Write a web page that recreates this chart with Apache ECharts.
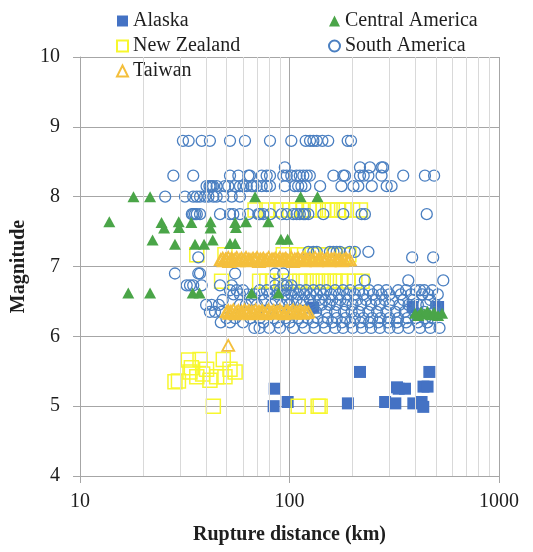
<!DOCTYPE html>
<html>
<head>
<meta charset="utf-8">
<script src="https://cdn.jsdelivr.net/npm/echarts@6/dist/echarts.min.js"></script>
<style>
  html, body { margin: 0; padding: 0; background: #fff; }
  #chart { width: 533px; height: 552px; }
</style>
</head>
<body>
<div id="chart"></div>
<script>
// Rupture distance (km) vs magnitude, per region

// Alaska (filled squares)
const alaskaDist = [85, 84, 98, 217, 465, 190, 286, 320, 326, 332, 356, 390, 427, 435, 436, 456, 130, 387, 512];
const alaskaMag  = [5.25, 5.0, 5.06, 5.49, 5.49, 5.04, 5.06, 5.04, 5.27, 5.25, 5.25, 5.04, 5.06, 4.99, 5.28, 5.28, 6.41, 6.42, 6.42];

// Central America (filled triangles)
const centralDist = [18, 21.6, 68.5, 113, 136,
  13.8, 24.5, 29.6, 34, 42, 55, 62, 79.2,
  25.2, 29.7, 42, 55.5,
  22.2, 28.4, 35.4, 39.1, 43, 52, 55, 91, 98,
  17, 21.6, 34.5, 37.2, 66, 88.5,
  398, 412, 425, 440, 455, 472, 490, 512, 535];
const centralMag = [8.0, 8.0, 8.0, 8.0, 8.0,
  7.64, 7.63, 7.64, 7.63, 7.64, 7.63, 7.64, 7.64,
  7.55, 7.56, 7.55, 7.56,
  7.38, 7.32, 7.32, 7.32, 7.38, 7.33, 7.33, 7.39, 7.39,
  6.62, 6.62, 6.62, 6.62, 6.62, 6.62,
  6.33, 6.3, 6.35, 6.32, 6.36, 6.31, 6.34, 6.3, 6.33];

// New Zealand (open squares)
const nzDist = [43.3, 110, 137, 140,
  32.9, 37.4, 48.3, 29.5, 28.4, 33.5, 36.1, 40.2, 41.7, 44.9, 49.2, 52, 55, 34, 38.5,
  47.4, 72, 78, 83, 92, 100, 112, 120, 128, 136, 145, 155, 165, 175, 190, 205, 222,
  36.1, 49.2, 93.4, 110, 118, 128, 140, 152, 165, 180, 192,
  68.5, 78, 86, 92, 100, 108, 116, 124, 133, 145, 152, 160, 170, 182, 200, 218];
const nzMag = [5.0, 5.0, 5.0, 5.0,
  5.66, 5.67, 5.67, 5.36, 5.35, 5.49, 5.42, 5.53, 5.37, 5.42, 5.42, 5.53, 5.49, 5.55, 5.46,
  6.79, 6.79, 6.79, 6.79, 6.79, 6.79, 6.79, 6.79, 6.79, 6.79, 6.79, 6.79, 6.79, 6.79, 6.79, 6.79, 6.79,
  7.17, 7.17, 7.17, 7.17, 7.17, 7.17, 7.17, 7.17, 7.17, 7.17, 7.17,
  7.81, 7.81, 7.81, 7.81, 7.81, 7.81, 7.81, 7.81, 7.81, 7.81, 7.81, 7.81, 7.81, 7.81, 7.81, 7.81];

// South America (open circles), one list of distances per magnitude row
const saRowMags = [8.8, 8.42, 8.3, 8.15, 8.0, 7.75, 7.21, 7.13, 6.9, 6.8, 6.73,
  6.66, 6.6, 6.52, 6.45, 6.35, 6.26, 6.2, 6.12];
const sa880 = [31, 33, 38.1, 41.7, 52, 61.3, 80.7, 102, 119.5, 125.3, 130, 135, 143.5, 153, 189.6, 196.6];
const sa842 = [95, 217, 242, 275, 280];
const sa830 = [27.9, 34.7, 52, 57, 63.6, 64.7, 73.7, 77.8, 80.7, 93.4, 97, 102, 108, 112, 116.4, 120.8, 125, 162, 180.6, 184, 217, 226, 238, 275, 349, 443, 490];
const sa815 = [40.2, 41.5, 42, 42.5, 43.2, 44.9, 49.2, 51, 55, 58, 60.2, 62.5, 66, 67.2, 69.7, 73.7, 77.8, 80.7, 95, 106, 110, 114, 119, 140, 177, 202, 213, 247, 291, 307];
const sa800 = [25.5, 31.7, 34.7, 36.1, 37.4, 39.5, 41, 43.3, 44.9, 48.3, 53, 58];
const sa775 = [34.2, 34.7, 35.4, 36.1, 37.4, 46.6, 52, 53.9, 58, 63.6, 71, 72.2, 75, 81, 91.8, 97, 104.2, 108.2, 112, 116.4, 118.6, 123, 145, 180.6, 221, 229, 452];
const sa721 = [123, 130, 135, 156, 162, 168, 174, 194, 205, 238];
const sa713 = [36.7, 385, 485];
const sa690 = [28.4, 36.7, 37.4, 55, 85.3, 93.4];
const sa680 = [229, 369, 542];
const sa673 = [32.3, 33.5, 34.7, 38.1, 46.6, 53, 85.3, 93.4, 97, 102];
const sa666 = [52, 56, 60, 72, 78, 85, 90, 96, 104, 112, 120, 130, 140, 150, 165, 180, 195, 215, 240, 265, 290, 330, 360, 400, 420, 440, 480];
const sa660 = [54, 58, 63, 68, 74, 80, 88, 95, 102, 110, 118, 126, 135, 145, 158, 172, 188, 205, 225, 250, 275, 300, 340, 380, 430, 460, 510];
const sa652 = [48, 66, 76, 86, 98, 108, 116, 125, 138, 148, 160, 175, 190, 210, 232, 258, 285, 310, 350, 390, 470];
const sa645 = [40, 42.5, 46, 58, 62, 70, 82, 92, 100, 114, 128, 142, 155, 168, 185, 200, 220, 245, 270, 300, 335, 370, 410, 450, 500];
const sa635 = [41.7, 44.1, 47.4, 62, 78, 92, 106, 120, 134, 150, 165, 182, 198, 215, 238, 262, 290, 320, 355, 395, 440, 490];
const sa626 = [50, 55, 65, 72, 84, 96, 110, 122, 136, 152, 168, 185, 205, 225, 248, 272, 300, 330, 365, 400, 445, 480];
const sa620 = [47, 52, 60, 75, 88, 100, 115, 130, 145, 160, 178, 195, 218, 240, 265, 295, 325, 360, 410, 455];
const sa612 = [68, 72, 80, 90, 104, 118, 132, 148, 165, 180, 200, 222, 245, 270, 300, 330, 370, 420, 470, 520];
const saRowDists = [sa880, sa842, sa830, sa815, sa800, sa775, sa721, sa713, sa690, sa680, sa673,
  sa666, sa660, sa652, sa645, sa635, sa626, sa620, sa612];

// Taiwan (open triangles)
const taiwanDist = [51,
  47, 48, 48.5, 49.5, 50, 51, 51.5, 52.5, 53, 54, 55, 56, 57, 58, 59, 60, 61, 62, 63, 64, 65.5, 67, 68, 69, 70, 71.5, 72.5, 74, 75, 76.5, 78, 79.5, 81, 82.5, 84, 85.5, 87, 88.5, 90, 91.5, 93, 94.5, 96, 98, 100, 102, 104, 106, 108, 110, 112, 114, 116, 118, 120, 122.5, 125, 127.5, 130, 132.5, 135, 137.5, 140, 143, 146, 149, 152, 155, 158, 161, 164, 167.5, 171, 174.5, 178, 182, 186, 190, 194,
  50, 51, 51.5, 52.5, 53, 54, 55, 56, 57, 58, 59, 60, 61, 62, 63, 64, 65, 66, 67.5, 69, 70, 71.5, 72.5, 74, 75, 76.5, 78, 79.5, 81, 82.5, 84, 85.5, 87, 88.5, 90, 92, 94, 96, 98, 100, 102, 104, 106, 108, 110, 112, 114, 116, 118, 120.5, 123];
const taiwanMag = [5.87,
  7.1, 7.12, 7.08, 7.11, 7.1, 7.13, 7.07, 7.1, 7.12, 7.09, 7.11, 7.13, 7.08, 7.1, 7.12, 7.09, 7.1, 7.13, 7.08, 7.11, 7.1, 7.12, 7.09, 7.1, 7.13, 7.07, 7.11, 7.1, 7.12, 7.09, 7.1, 7.13, 7.08, 7.11, 7.1, 7.12, 7.09, 7.1, 7.13, 7.08, 7.11, 7.1, 7.12, 7.09, 7.1, 7.13, 7.07, 7.11, 7.1, 7.12, 7.09, 7.1, 7.13, 7.08, 7.11, 7.1, 7.12, 7.09, 7.1, 7.13, 7.08, 7.11, 7.1, 7.12, 7.09, 7.1, 7.13, 7.08, 7.11, 7.1, 7.12, 7.09, 7.1, 7.11, 7.08, 7.1, 7.12, 7.09, 7.1,
  6.35, 6.37, 6.33, 6.36, 6.34, 6.38, 6.32, 6.35, 6.37, 6.34, 6.36, 6.33, 6.38, 6.35, 6.34, 6.37, 6.32, 6.36, 6.35, 6.38, 6.33, 6.36, 6.34, 6.37, 6.35, 6.32, 6.36, 6.38, 6.34, 6.35, 6.37, 6.33, 6.36, 6.34, 6.38, 6.35, 6.32, 6.36, 6.37, 6.34, 6.35, 6.38, 6.33, 6.36, 6.34, 6.37, 6.35, 6.33, 6.36, 6.34, 6.35];

// Axis ticks
const yTicks = [4, 5, 6, 7, 8, 9, 10];
const xMinorLines = [20, 30, 40, 50, 60, 70, 80, 90, 200, 300, 400, 500, 600, 700, 800, 900];

function pairs(xs, ys) { return xs.map((x, i) => [x, ys[i]]); }
const southAmerica = [];
saRowDists.forEach((row, r) => row.forEach(d => southAmerica.push([d, saRowMags[r]])));

const serif = '"Liberation Serif", "Times New Roman", serif';
const legendText = { fontFamily: serif, fontSize: 20, color: '#1e1e1e' };
const legendBase = { orient: 'vertical', top: 6, itemGap: 5, itemWidth: 11, itemHeight: 11,
  textStyle: legendText, selectedMode: false };

const chart = echarts.init(document.getElementById('chart'), null, { renderer: 'canvas' });
chart.setOption({
  animation: false,
  backgroundColor: '#ffffff',
  grid: { left: 80, top: 57, width: 419, height: 419 },
  legend: [
    Object.assign({}, legendBase, { left: 111, data: ['Alaska', 'New Zealand', 'Taiwan'] }),
    Object.assign({}, legendBase, { left: 323, data: ['Central America', 'South America'] })
  ],
  xAxis: {
    type: 'log', logBase: 10, min: 10, max: 1000,
    name: 'Rupture distance (km)', nameLocation: 'middle', nameGap: 49,
    nameTextStyle: { fontFamily: serif, fontSize: 20, fontWeight: 'bold', color: '#1e1e1e' },
    axisLine: { show: true, lineStyle: { color: '#a6a6a6', width: 1 } },
    axisTick: { show: true, length: 7, lineStyle: { color: '#a6a6a6' } },
    axisLabel: { fontFamily: serif, fontSize: 20, color: '#1e1e1e', margin: 16,
      formatter: v => String(Math.round(v)) },
    splitLine: { show: true, lineStyle: { color: '#a6a6a6', width: 1 } },
    minorTick: { show: false }, minorSplitLine: { show: false }
  },
  yAxis: {
    type: 'value', min: 4, max: 10, interval: 1,
    name: 'Magnitude', nameLocation: 'middle', nameGap: 42, nameRotate: 90,
    nameTextStyle: { fontFamily: serif, fontSize: 20, fontWeight: 'bold', color: '#1e1e1e' },
    axisLine: { show: true, lineStyle: { color: '#a6a6a6', width: 1 } },
    axisTick: { show: true, length: 7, lineStyle: { color: '#a6a6a6' } },
    axisLabel: { fontFamily: serif, fontSize: 20, color: '#1e1e1e', margin: 20,
      formatter: v => (yTicks.indexOf(v) >= 0 ? String(v) : '') },
    splitLine: { show: true, lineStyle: { color: '#a6a6a6', width: 1 } }
  },
  series: [
    {
      name: 'minor-grid', type: 'scatter', data: [], z: 1, silent: true,
      markLine: {
        silent: true, symbol: ['none', 'none'], label: { show: false },
        lineStyle: { type: 'solid', color: '#d9d9d9', width: 1 },
        emphasis: { disabled: true },
        data: xMinorLines.map(v => ({ xAxis: v }))
      }
    },
    {
      name: 'Alaska', type: 'scatter', z: 2, symbol: 'rect', symbolSize: 12,
      itemStyle: { color: '#4472c4', opacity: 1 },
      data: pairs(alaskaDist, alaskaMag)
    },
    {
      name: 'New Zealand', type: 'scatter', z: 3, symbol: 'rect', symbolSize: 14,
      itemStyle: { color: 'rgba(255,255,255,0)', borderColor: '#f7f72e', borderWidth: 1.5, opacity: 1 },
      data: pairs(nzDist, nzMag)
    },
    {
      name: 'South America', type: 'scatter', z: 4, symbol: 'circle', symbolSize: 11,
      itemStyle: { color: 'rgba(255,255,255,0)', borderColor: '#4a7fc1', borderWidth: 1.3, opacity: 1 },
      data: southAmerica
    },
    {
      name: 'Central America', type: 'scatter', z: 5, symbol: 'triangle', symbolSize: [12, 11],
      itemStyle: { color: '#4aa548', opacity: 1 },
      data: pairs(centralDist, centralMag)
    },
    {
      name: 'Taiwan', type: 'scatter', z: 6, symbol: 'triangle', symbolSize: [12, 11],
      itemStyle: { color: 'rgba(255,255,255,0)', borderColor: '#f4bf3c', borderWidth: 1.8, opacity: 1 },
      data: pairs(taiwanDist, taiwanMag)
    }
  ]
});
</script>
</body>
</html>
